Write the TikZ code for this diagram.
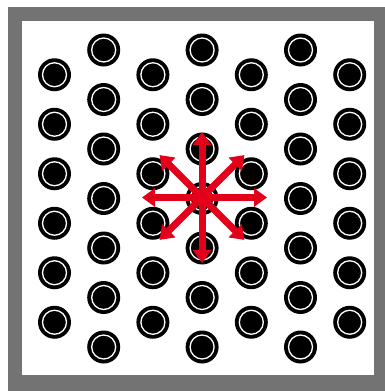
\documentclass[tikz,border=0pt]{standalone}
\usetikzlibrary{arrows.meta,calc}
\definecolor{framegray}{RGB}{115,115,115}
\definecolor{arrowred}{RGB}{226,0,26}
\begin{document}
\begin{tikzpicture}[x=1pt,y=-1pt,
  dot/.style={circle, fill=black, minimum size=33pt, inner sep=0pt, outer sep=0pt,
    path picture={\draw[white, line width=1.3pt] (path picture bounding box.center) circle (12pt);}},
  redarrow/.style={draw=arrowred, line width=7pt, -{Triangle[length=13pt,width=18pt]}}]
\useasboundingbox (0,0) rectangle (385,391);
\fill[framegray] (8,7) rectangle (385,391);
\fill[white] (22,21) rectangle (374,375);
% dots
\foreach \i in {0,2,4,6} {
  \foreach \j in {0,...,5} {
    \node[dot] (d-\i-\j) at ({54.5+49.2*\i},{74.75+49.5*\j}) {};
  }
}
\foreach \i in {1,3,5} {
  \foreach \j in {0,...,6} {
    \node[dot] (d-\i-\j) at ({54.5+49.2*\i},{50+49.5*\j}) {};
  }
}
% arrows
\coordinate (c) at (202,197.5);
\foreach \a/\r in {0/65,90/65.5,180/60,270/65.5,45/60,135/60,225/60,315/60} {
  \coordinate (e\a) at ($(c)+(\a:\r)$);
}
\foreach \a in {0,45,90,135,180,225,270,315} {
  \draw[redarrow] (c) -- (e\a);
}
\end{tikzpicture}
\end{document}
